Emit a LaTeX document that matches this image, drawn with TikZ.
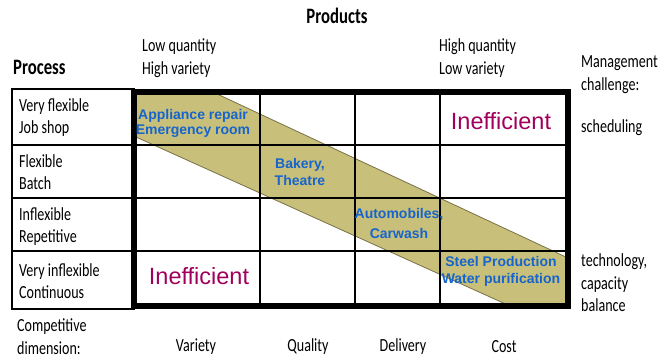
\documentclass[tikz,border=0pt]{standalone}
\usepackage{fontspec}
\setmainfont{Carlito}[FakeStretch=0.76]
\newfontfamily\arialfont{Liberation Sans}
\usepackage{xcolor}
\definecolor{bandfill}{RGB}{200,192,122}
\definecolor{banddraw}{RGB}{120,112,70}
\definecolor{exblue}{RGB}{22,100,204}
\definecolor{ineffred}{RGB}{160,0,92}

\begin{document}
\begin{tikzpicture}[x=1pt, y=-1pt,
  lbl/.style={font=\fontsize{18.5}{22.5}\selectfont, align=left, anchor=west, inner sep=0pt},
  head/.style={font=\fontsize{22}{24}\selectfont\bfseries, inner sep=0pt},
  dim/.style={font=\fontsize{18.5}{22}\selectfont, inner sep=0pt},
  example/.style={font=\arialfont\bfseries\fontsize{14}{17}\selectfont, text=exblue, align=center, inner sep=0pt},
  ineff/.style={font=\arialfont\fontsize{23.5}{26}\selectfont, text=ineffred, inner sep=0pt}]
  \useasboundingbox (0,0) rectangle (665,364);

  % band of good fit
  \filldraw[fill=bandfill, draw=banddraw, line width=0.8pt]
    (136,93) -- (215,93) -- (568,258) -- (568,306) -- (510,306) -- (136,137) -- cycle;

  % grid
  \draw[line width=1.4pt] (12,89) rectangle (134,309);
  \foreach \y in {145,198,251} \draw[line width=1.4pt] (12,\y) -- (568,\y);
  \foreach \x in {260,355,440} \draw[line width=1.4pt] (\x,92) -- (\x,306);
  \draw[line width=6pt] (134,92) rectangle (568,306);

  % headings
  \node[head] (products) at (337,16) {Products};
  \node[head, anchor=west] (process) at (13,67) {Process};
  \node[lbl] (lowq) at (142,58) {Low quantity\\High variety};
  \node[lbl] (highq) at (439,58) {High quantity\\Low variety};
  \node[lbl] (mgmt) at (581,74.5) {Management\\challenge:};
  \node[lbl] (sched) at (581,128) {scheduling};
  \node[lbl] (tech) at (581,283) {technology,\\capacity\\balance};

  % process rows
  \node[lbl] (jobshop) at (19,117.5) {Very flexible\\Job shop};
  \node[lbl] (batch) at (19,172) {Flexible\\Batch};
  \node[lbl] (repet) at (19,226.5) {Inflexible\\Repetitive};
  \node[lbl] (contin) at (19,281) {Very inflexible\\Continuous};

  % competitive dimension
  \node[lbl] (compdim) at (17,336.5) {Competitive\\dimension:};
  \node[dim] (variety) at (196,347) {Variety};
  \node[dim] (quality) at (308,347) {Quality};
  \node[dim] (delivery) at (403,347) {Delivery};
  \node[dim] (cost) at (504,347) {Cost};

  % examples
  \node[example, font=\arialfont\bfseries\fontsize{14}{15}\selectfont] (appl) at (193,123.5) {Appliance repair\\Emergency room};
  \node[example] (bakery) at (300,172) {Bakery,\\Theatre};
  \node[example, font=\arialfont\bfseries\fontsize{14}{20}\selectfont] (auto) at (399,223) {Automobiles,\\Carwash};
  \node[example] (steel) at (501,271.5) {Steel Production\\Water purification};

  % inefficient corners
  \node[ineff] (ineffA) at (501,121) {Inefficient};
  \node[ineff] (ineffB) at (199,276) {Inefficient};
\end{tikzpicture}
\end{document}
